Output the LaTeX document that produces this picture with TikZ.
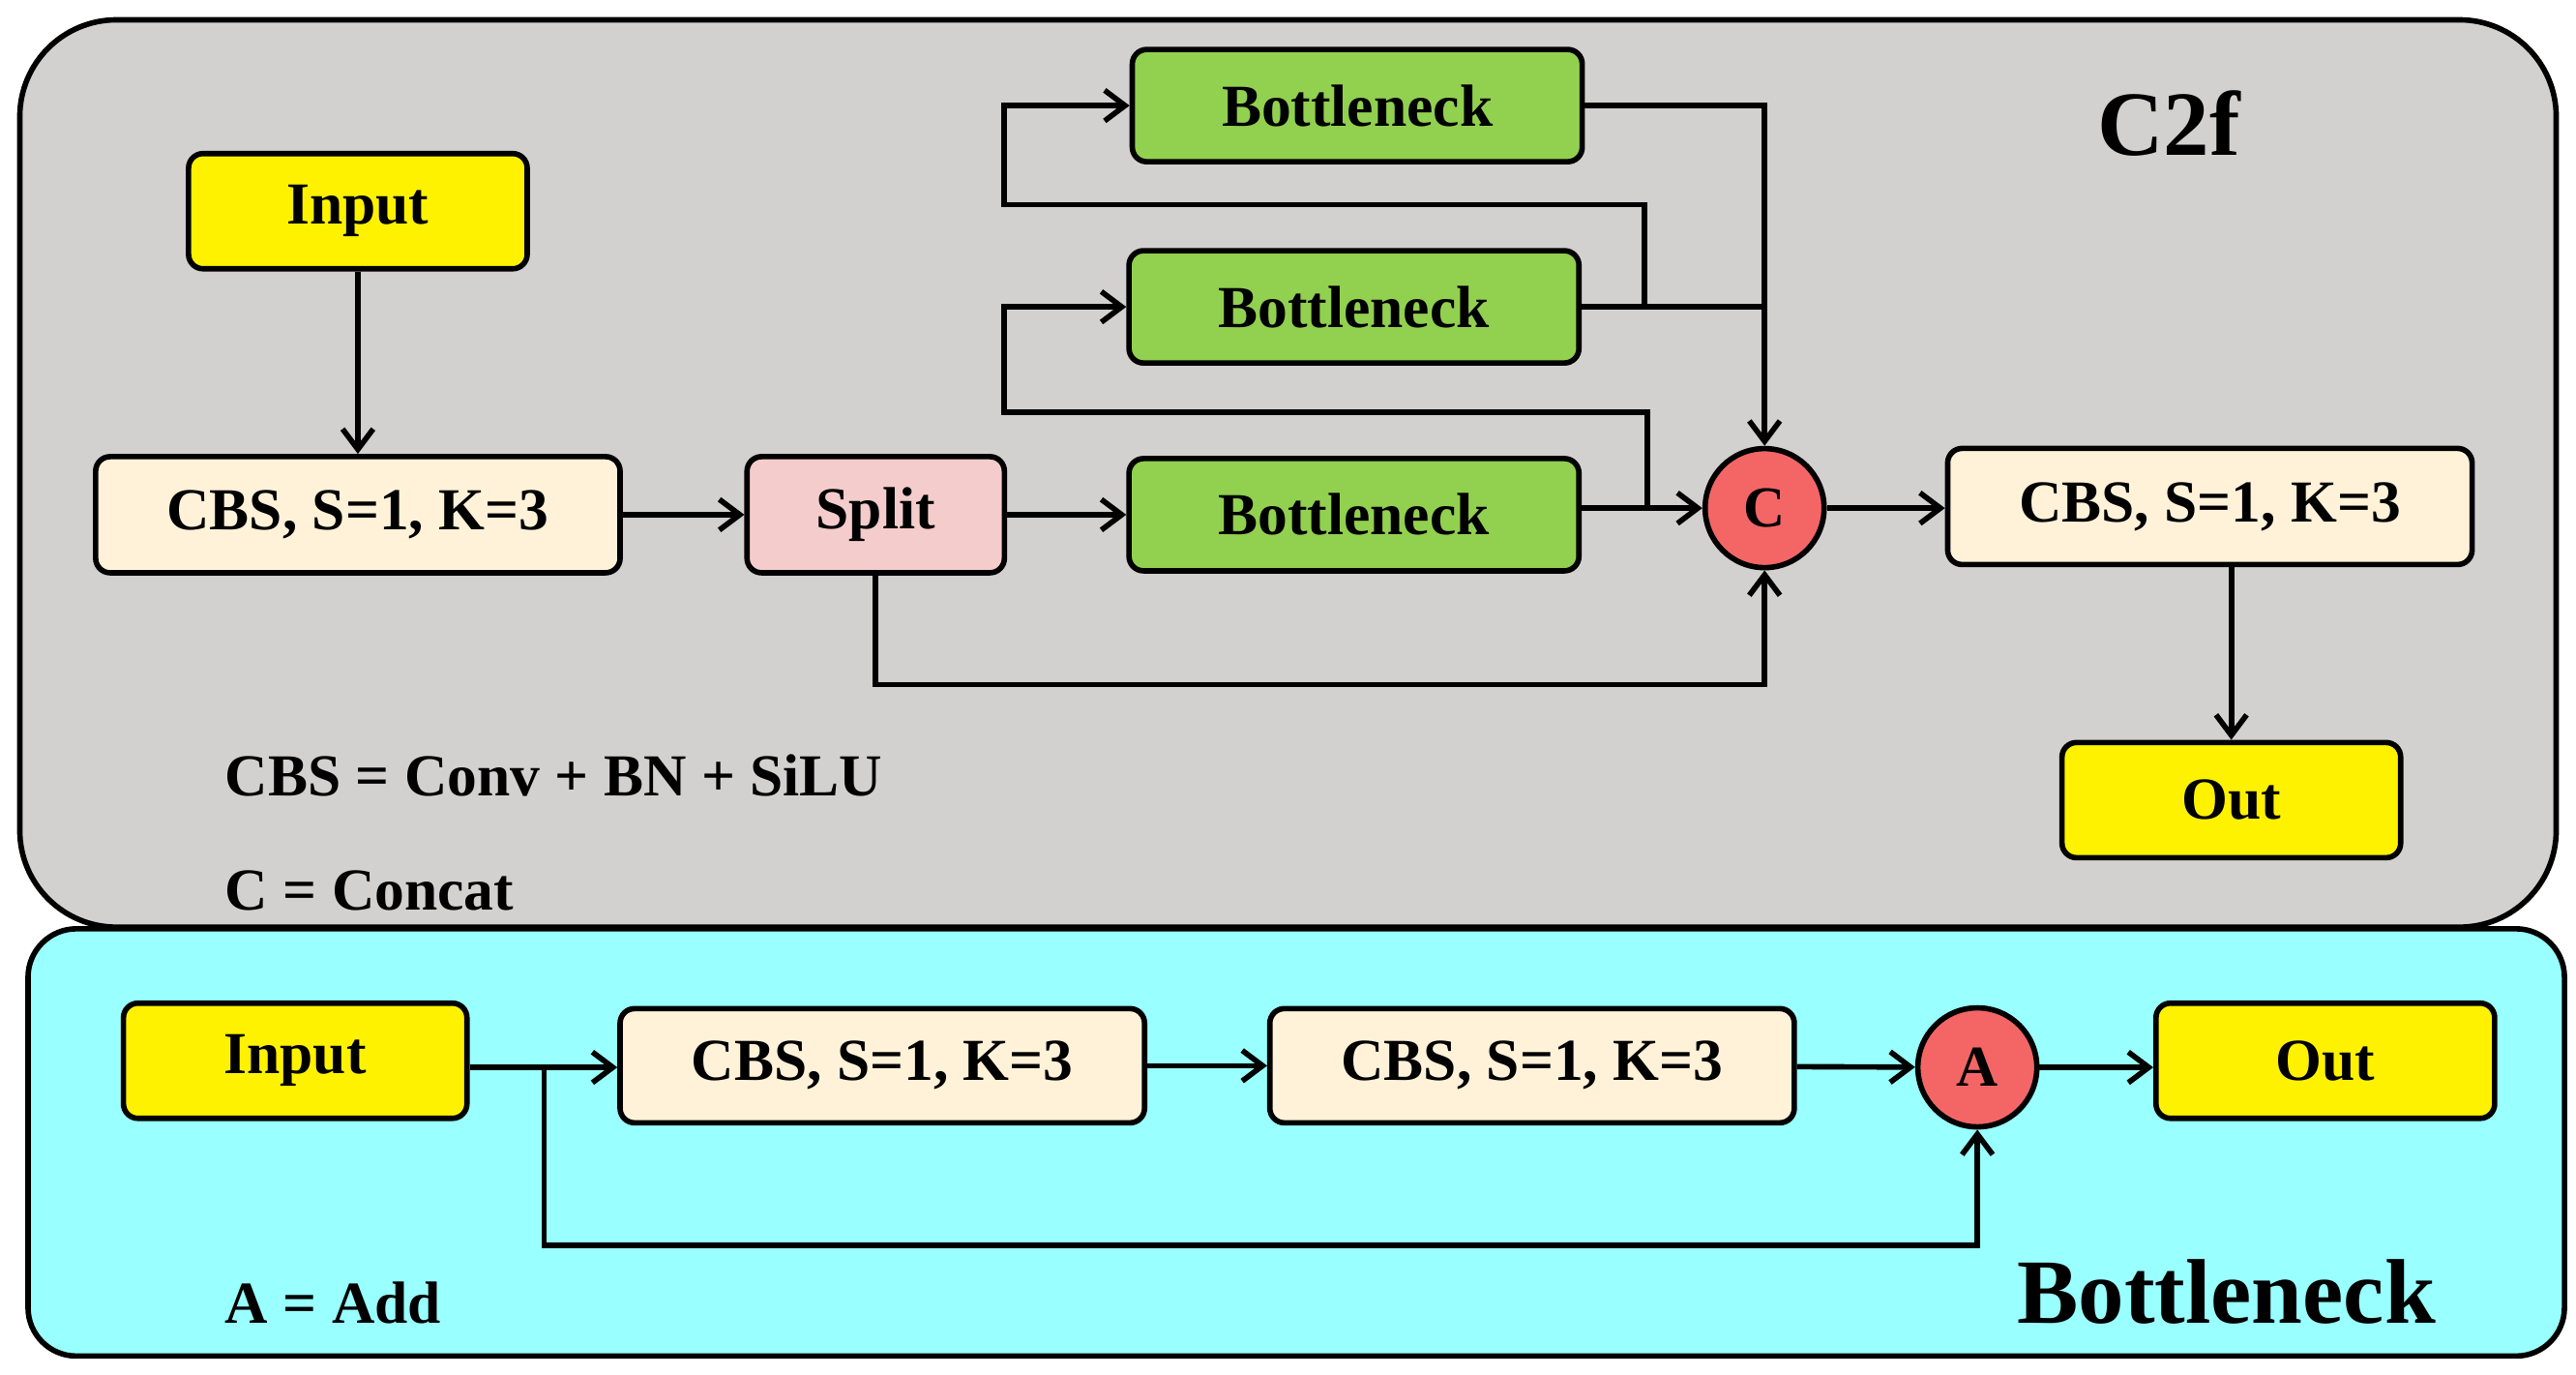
\documentclass[tikz,border=0pt]{standalone}
\usepackage{fontspec}
\setmainfont{Liberation Serif}
\usetikzlibrary{arrows.meta}
\definecolor{panelgray}{HTML}{D3D0D0}
\definecolor{panelcyan}{HTML}{99FFFF}
\definecolor{cream}{HTML}{FFF2D9}
\definecolor{pinkb}{HTML}{F4CCCC}
\definecolor{greenb}{HTML}{92D050}
\definecolor{redc}{HTML}{F46666}
\begin{document}
\begin{tikzpicture}[x=0.01705cm,y=-0.01705cm,line width=1.6pt,
  box/.style={draw,rounded corners=0.15cm,font=\bfseries\fontsize{17.5}{19}\selectfont,inner sep=0pt},
  yel/.style={box,fill=yellow,minimum width=3.5cm,minimum height=1.19cm},
  cbs/.style={box,fill=cream,minimum width=5.42cm,minimum height=1.2cm},
  bot/.style={box,fill=greenb,minimum width=4.65cm,minimum height=1.16cm},
  circ/.style={draw,circle,fill=redc,minimum size=1.23cm,inner sep=0pt,font=\bfseries\fontsize{17}{19}\selectfont},
  arr/.style={-{Straight Barb[length=6pt,width=9pt]}},
  lab/.style={font=\bfseries\fontsize{17.5}{19}\selectfont,anchor=west}]
\useasboundingbox (0,0) rectangle (1562,833);
\draw[fill=panelgray,rounded corners=1.0cm] (12,12) rectangle (1550,562);
\draw[fill=panelcyan,rounded corners=0.5cm] (17,563) rectangle (1555,822);
% top
\node[yel] (in) at (217,128) {Input};
\node[cbs] (c1) at (217,312) {CBS, S=1, K=3};
\node[box,fill=pinkb,minimum width=2.66cm,minimum height=1.2cm] (sp) at (531,312) {Split};
\node[bot] (b1) at (823,64) {Bottleneck};
\node[bot] (b2) at (821,186) {Bottleneck};
\node[bot] (b3) at (821,312) {Bottleneck};
\node[circ] (cc) at (1070,308) {C};
\node[cbs] (c2) at (1340,307) {CBS, S=1, K=3};
\node[yel] (out) at (1353,485) {Out};
\node[font=\bfseries\fontsize{27}{30}\selectfont] (t1) at (1315,75) {C2f};
\node[lab] (l1) at (128,470) {CBS = Conv + BN + SiLU};
\node[lab] (l2) at (128,540) {C = Concat};
\draw[arr] (in) -- (c1);
\draw[arr] (c1) -- (sp);
\draw[arr] (sp.east) -- (b3.west |- sp.east);
\draw[arr] (sp.south) |- (1070,415) -- (cc.south);
\draw[arr] (b3.east |- cc) -- (cc.west);
\draw[arr] (b1.east) -| (cc.north);
\draw (b2.east) -- (1070,186);
\coordinate (j1) at (997,186);
\coordinate (j2) at (999,308);
\draw[arr] (j1) |- (609,124) |- (b1.west);
\draw[arr] (j2) |- (609,250) |- (b2.west);
\draw[arr] (cc) -- (c2.west |- cc);
\draw[arr] (1353,343) -- (out.north);
% bottom
\node[yel,minimum width=3.55cm] (bi) at (179,643) {Input};
\node[cbs,minimum height=1.18cm] (bc1) at (535,646) {CBS, S=1, K=3};
\node[cbs,minimum height=1.18cm] (bc2) at (929,646) {CBS, S=1, K=3};
\node[circ] (aa) at (1199,647) {A};
\node[yel] (bo) at (1410,643) {Out};
\node[lab] (l3) at (128,790) {A = Add};
\node[font=\bfseries\fontsize{27}{30}\selectfont] (t2) at (1350,783) {Bottleneck};
\coordinate (bj) at (330,647);
\draw[arr] (bi.east |- bj) -- (bc1.west |- bj);
\draw[arr] (bc1) -- (bc2);
\draw[arr] (bc2) -- (aa);
\draw[arr] (aa.east) -- (bo.west |- aa.east);
\draw[arr] (bj) |- (1199,755) -- (aa.south);
\end{tikzpicture}
\end{document}
